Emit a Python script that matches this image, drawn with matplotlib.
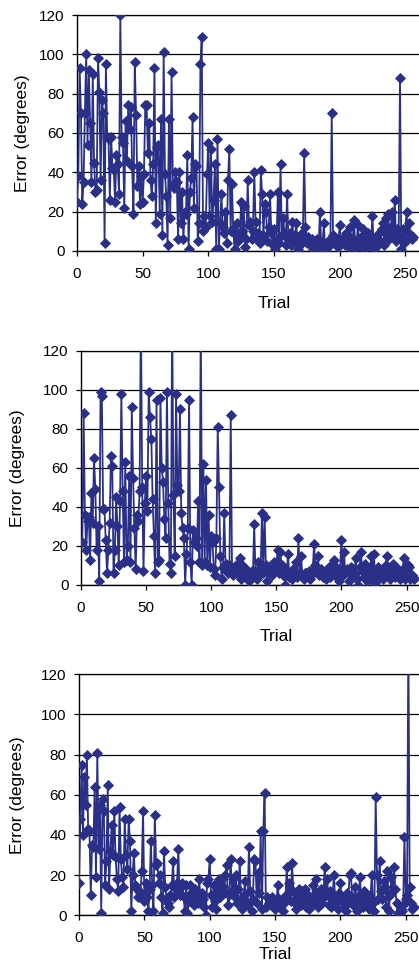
import matplotlib
matplotlib.use('Agg')
import matplotlib.pyplot as plt
import numpy as np

plt.rcParams['font.family'] = ['Liberation Sans', 'DejaVu Sans']
plt.rcParams['font.size'] = 11

# error per trial, three sessions
err_a = [25, 38, 93, 70, 24, 35, 70, 100, 54, 92,
         65, 35, 90, 45, 30, 31, 98, 81, 36, 77,
         70, 4, 95, 58, 57, 26, 58, 42, 41, 25,
         49, 44, 29, 120, 58, 55, 22, 66, 46, 74,
         62, 73, 43, 19, 96, 69, 33, 43, 24, 38,
         25, 39, 74, 74, 50, 65, 36, 28, 44, 93,
         14, 53, 54, 19, 67, 8, 101, 39, 28, 3,
         67, 17, 91, 34, 32, 40, 35, 6, 40, 14,
         30, 6, 20, 19, 49, 1, 30, 37, 68, 22,
         44, 43, 5, 14, 95, 109, 10, 18, 12, 39,
         55, 18, 52, 15, 26, 44, 1, 57, 1, 14,
         29, 12, 9, 20, 4, 36, 52, 10, 34, 11,
         1, 8, 14, 5, 7, 25, 10, 23, 2, 6,
         36, 13, 15, 6, 10, 40, 15, 6, 9, 4,
         41, 29, 8, 24, 20, 5, 12, 29, 9, 3,
         11, 1, 6, 30, 4, 44, 8, 17, 9, 3,
         29, 6, 9, 3, 15, 5, 8, 14, 1, 5,
         3, 9, 6, 50, 12, 4, 7, 4, 3, 6,
         1, 5, 3, 6, 2, 20, 4, 3, 14, 0.5,
         2, 5, 4, 3, 70, 8, 7, 3, 5, 2,
         13, 4, 6, 5, 3, 9, 8, 2, 12, 4,
         6, 16, 1, 5, 13, 3, 7, 2, 11, 4,
         2, 6, 9, 3, 5, 18, 1, 4, 7, 3,
         9, 5, 11, 14, 3, 17, 8, 19, 6, 12,
         20, 9, 26, 5, 11, 7, 88, 1, 11, 4,
         10, 20, 6, 14, 8, 6, 7]

err_b = [22, 22, 88, 36, 18, 33, 35, 13, 47, 32,
         65, 49, 18, 30, 2, 99, 97, 39, 39, 23,
         6, 18, 32, 66, 61, 6, 18, 45, 30, 10,
         43, 98, 48, 12, 63, 13, 20, 56, 12, 91,
         55, 29, 8, 36, 33, 48, 140, 50, 7, 42,
         56, 38, 99, 86, 75, 44, 25, 6, 95, 12,
         13, 96, 60, 53, 34, 24, 99, 42, 11, 6,
         140, 46, 15, 98, 51, 48, 90, 37, 29, 24,
         0, 16, 29, 95, 12, 0, 28, 22, 24, 20,
         43, 12, 140, 10, 62, 12, 54, 10, 36, 9,
         25, 22, 8, 5, 24, 81, 50, 15, 3, 9,
         37, 11, 7, 6, 10, 87, 7, 5, 8, 10,
         6, 9, 14, 3, 10, 6, 4, 8, 5, 2,
         3, 7, 4, 31, 7, 3, 12, 5, 8, 37,
         6, 35, 10, 2, 9, 7, 6, 5, 12, 8,
         9, 18, 6, 17, 10, 5, 8, 0, 6, 16,
         4, 6, 3, 8, 5, 12, 4, 24, 6, 15,
         5, 3, 6, 6, 4, 7, 3, 5, 8, 21,
         10, 6, 15, 5, 8, 7, 4, 6, 3, 8,
         6, 4, 10, 5, 13, 7, 9, 4, 2, 8,
         23, 5, 17, 6, 8, 7, 2, 9, 5, 4,
         6, 14, 3, 0, 9, 17, 7, 4, 11, 6,
         2, 8, 5, 15, 4, 16, 1, 5, 9, 7,
         4, 6, 3, 8, 10, 15, 5, 3, 7, 9,
         11, 4, 9, 6, 5, 3, 6, 8, 14, 3,
         7, 10, 9, 3, 5, 4, 3]

err_c = [16, 48, 75, 40, 69, 55, 80, 43, 42, 10,
         35, 34, 64, 19, 81, 33, 55, 1, 58, 52,
         15, 27, 65, 13, 32, 45, 30, 52, 29, 18,
         12, 54, 28, 19, 14, 48, 30, 23, 48, 37,
         2, 20, 31, 15, 13, 9, 12, 11, 22, 52,
         7, 16, 9, 2, 13, 37, 15, 2, 50, 25,
         26, 16, 20, 9, 1, 32, 14, 8, 6, 4,
         10, 15, 27, 9, 13, 16, 33, 10, 14, 16,
         9, 2, 15, 1, 7, 15, 11, 8, 5, 13,
         9, 6, 18, 7, 11, 8, 4, 0, 16, 18,
         28, 10, 4, 15, 7, 3, 12, 18, 9, 18,
         14, 11, 20, 25, 5, 10, 28, 12, 18, 9,
         20, 6, 13, 27, 7, 3, 10, 17, 6, 5,
         34, 12, 2, 8, 28, 27, 6, 21, 11, 42,
         3, 42, 61, 4, 9, 6, 8, 5, 9, 7,
         3, 6, 15, 8, 4, 7, 2, 6, 10, 24,
         8, 16, 7, 26, 12, 6, 3, 9, 13, 8,
         5, 12, 7, 13, 4, 10, 3, 8, 6, 15,
         9, 18, 7, 4, 11, 13, 6, 9, 24, 10,
         18, 5, 12, 4, 9, 20, 8, 6, 3, 11,
         16, 7, 8, 4, 2, 11, 7, 20, 21, 9,
         5, 14, 8, 2, 10, 19, 6, 4, 12, 8,
         10, 5, 3, 9, 20, 6, 2, 59, 20, 8,
         27, 12, 8, 17, 14, 4, 22, 2, 10, 19,
         12, 24, 13, 6, 1, 5, 3, 2, 5, 39,
         8, 10, 140, 14, 6, 3, 4]

y_ticks = [0, 20, 40, 60, 80, 100, 120]
x_ticks = [0, 50, 100, 150, 200, 250]

W, H = 419, 968
fig = plt.figure(figsize=(W / 100, H / 100), dpi=100)

# pixel boxes: x of trial 0, px per trial, y of 0, y of 120,
# right edge of the y label, xlabel pad
panels = [
    (err_a, 77.0, 1.313, 251.0, 15.0, 29.5, 11),
    (err_b, 81.0, 1.302, 585.0, 350.7, 25.5, 10),
    (err_c, 79.0, 1.307, 915.3, 674.3, 24.5, 1),
]

color = '#2a3088'
for data, x0, sx, yb, yt, ylx, lpad in panels:
    xmax = 300
    width_px = xmax * sx
    ax = fig.add_axes([x0 / W, (H - yb) / H, width_px / W, (yb - yt) / H])
    trials = np.arange(len(data))
    ax.plot(trials, data, color=color, lw=1.3, marker='D', ms=4.6,
            mec=color, mfc=color, mew=0.6, zorder=3)
    ax.set_xlim(0, xmax)
    ax.set_ylim(0, 120)
    ax.set_yticks(y_ticks)
    ax.set_xticks(x_ticks)
    ax.yaxis.grid(True, color='black', lw=0.9)
    ax.set_axisbelow(True)
    ax.spines['right'].set_visible(False)
    ax.spines['top'].set_linewidth(0.9)
    ax.spines['left'].set_linewidth(1.0)
    ax.spines['bottom'].set_linewidth(1.0)
    ax.tick_params(axis='y', direction='out', length=3.5, width=0.9, pad=5.5,
                   labelsize=11)
    ax.tick_params(axis='x', direction='out', length=3.5, width=0.9, pad=8,
                   labelsize=11)
    ax.set_ylabel('Error (degrees)', fontsize=12.5)
    ax.yaxis.set_label_coords((ylx - x0) / width_px, 0.5)
    ax.set_xlabel('Trial', fontsize=12.5, labelpad=lpad)

fig.savefig('out.png', dpi=100)
